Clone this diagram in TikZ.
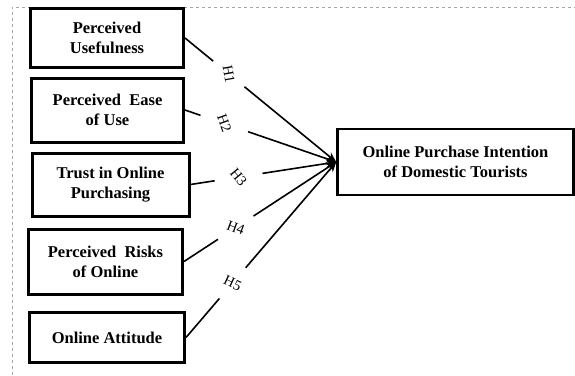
\documentclass[tikz,border=0pt]{standalone}
\usepackage{fontspec}
\setmainfont{Liberation Serif}
\usetikzlibrary{calc,arrows.meta}

\begin{document}
\begin{tikzpicture}[x=1pt,y=-1pt]
        \tikzstyle{every node}=[align=center]
        \tikzstyle{factor}=[draw,line width=3pt,font=\fontsize{16.5}{20}\selectfont\bfseries]
        \tikzstyle{hyp}=[circle,inner sep=0pt,font=\fontsize{14.5}{16}\selectfont]
        \tikzstyle{link}=[line width=1.6pt]
        \tikzstyle{linkto}=[line width=1.6pt,-{Stealth[length=10pt,width=8pt]}]
            \useasboundingbox (0,0) rectangle (575,375);
            \draw[gray!70,dashed,line width=0.6pt] (12,375) -- (12,7) -- (575,7);

            \node[factor,minimum width=153pt,minimum height=59pt] (PU) at (107,38) {Perceived\\Usefulness};
            \node[factor,minimum width=152pt,minimum height=64pt] (PE) at ($(PU)+(0.5,72)$) {Perceived\ \ Ease\\of Use};
            \node[factor,minimum width=157pt,minimum height=63pt] (TO) at ($(PE)+(3,74.5)$) {Trust in Online\\Purchasing};
            \node[factor,minimum width=154pt,minimum height=65pt] (PR) at ($(TO)+(-5,77)$) {Perceived\ \ Risks\\of Online};
            \node[factor,minimum width=155pt,minimum height=50pt] (OA) at ($(PR)+(1.5,76)$) {Online Attitude};

            \node[factor,line width=2.6pt,minimum width=236pt,minimum height=66pt] (OPI) at (455.5,162) {Online Purchase Intention\\of Domestic Tourists};

            % hypothesis labels sit in the gaps of the links
            \node[hyp,minimum size=40pt,rotate=-80] (H1) at ($(PU.east)!0.29!(OPI.west)$) {H1};
            \node[hyp,minimum size=50pt,rotate=-70] (H2) at ($(PE.east)!0.26!(OPI.west)$) {H2};
            \node[hyp,minimum size=48pt,rotate=-50] (H3) at ($(TO.east)!0.33!(OPI.west)$) {H3};
            \node[hyp,minimum size=42pt,rotate=-20] (H4) at ($(PR.east)!0.34!(OPI.west)$) {H4};
            \node[hyp,minimum size=40pt,rotate=-25] (H5) at ($(OA.east)!0.31!(OPI.west)$) {H5};

            \draw[link] (PU.east) -- (H1);
            \draw[link] (PE.east) -- (H2);
            \draw[link] (TO.east) -- (H3);
            \draw[link] (PR.east) -- (H4);
            \draw[link] (OA.east) -- (H5);

            \draw[linkto] (H1) -- (OPI.west);
            \draw[linkto] (H2) -- (OPI.west);
            \draw[linkto] (H3) -- (OPI.west);
            \draw[linkto] (H4) -- (OPI.west);
            \draw[linkto] (H5) -- (OPI.west);

        \end{tikzpicture}
\end{document}
